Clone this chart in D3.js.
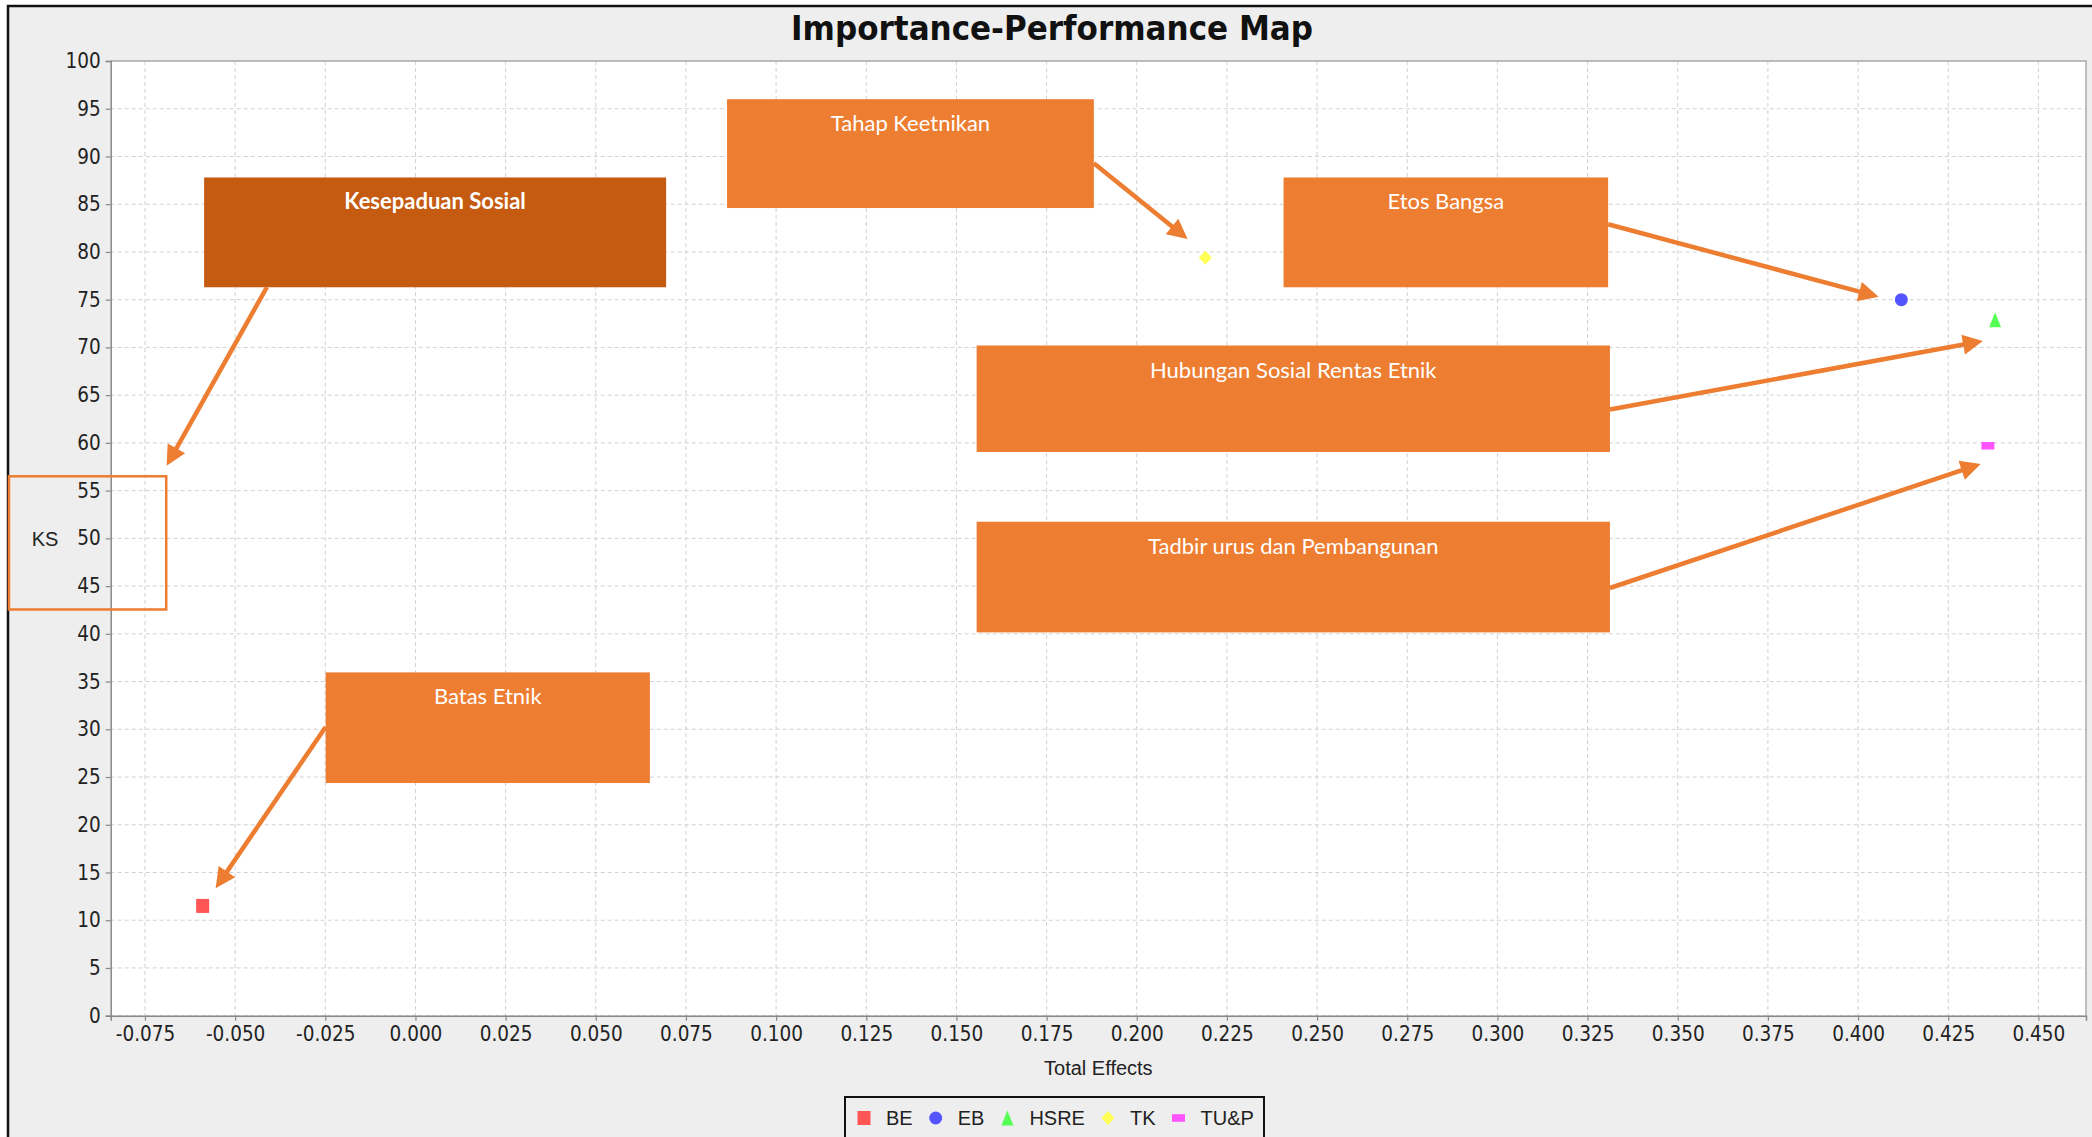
<!DOCTYPE html>
<html>
<head>
<meta charset="utf-8">
<script src="https://cdn.jsdelivr.net/npm/d3@7"></script>
<style>
  body { margin: 0; background: #fff; }
  svg { display: block; }
</style>
</head>
<body>
<svg id="chart"></svg>
<script>
// chart values
const series = ['BE', 'EB', 'HSRE', 'TK', 'TU&P'];
const totalEffects = [-0.059, 0.412, 0.438, 0.219, 0.436];
const performance = [11.5, 75.0, 72.9, 79.4, 59.7];
const seriesColors = ['#ff5555', '#5555ff', '#55ff55', '#ffff55', '#ff55ff'];
const seriesShapes = ['square', 'circle', 'triangle', 'diamond', 'bar'];

const xTickValues = [-0.075, -0.05, -0.025, 0, 0.025, 0.05, 0.075, 0.1, 0.125, 0.15, 0.175,
  0.2, 0.225, 0.25, 0.275, 0.3, 0.325, 0.35, 0.375, 0.4, 0.425, 0.45];
const yTickValues = [0, 5, 10, 15, 20, 25, 30, 35, 40, 45, 50, 55, 60, 65, 70, 75, 80, 85, 90, 95, 100];

// call-out boxes, in data units: box [x0, x1, yTop, yBottom], arrow [from, to]
const noteLabels = ['Kesepaduan Sosial', 'Tahap Keetnikan', 'Etos Bangsa',
  'Hubungan Sosial Rentas Etnik', 'Tadbir urus dan Pembangunan', 'Batas Etnik'];
const noteBoxes = [
  [-0.0586, 0.0695, 87.8, 76.3],
  [0.0864, 0.1881, 96.0, 84.6],
  [0.2407, 0.3307, 87.8, 76.3],
  [0.1556, 0.3312, 70.2, 59.05],
  [0.1556, 0.3312, 51.74, 40.15],
  [-0.0249, 0.0650, 35.96, 24.37],
];
const noteArrows = [
  [[-0.0412, 76.3], [-0.0690, 57.6]],
  [[0.1881, 89.3], [0.2141, 81.35]],
  [[0.3307, 82.9], [0.4057, 75.3]],
  [[0.3312, 63.5], [0.4346, 70.67]],
  [[0.3312, 44.8], [0.4340, 57.8]],
  [[-0.0249, 30.24], [-0.0554, 13.35]],
];
// the orange frame round the KS label
const ksFrame = [-0.1127, -0.0691, 56.5, 42.55];

const width = 2092;
const height = 1137;
const margin = { top: 61, right: 6, bottom: 121.3, left: 110.7 };
const orange = '#ed7d31';

const svg = d3.select('#chart').attr('width', width).attr('height', height);

// outer panel
svg.append('rect').attr('width', width).attr('height', height).attr('fill', '#fff');
svg.append('rect')
  .attr('x', 8).attr('y', 6)
  .attr('width', width).attr('height', height)
  .attr('fill', '#eeeeee');
svg.append('path')
  .attr('d', `M8,${height} V6 H${width}`)
  .attr('fill', 'none')
  .attr('stroke', '#111')
  .attr('stroke-width', 2.5);

const x = d3.scaleLinear()
  .domain([-0.0845, 0.4632])
  .range([margin.left, width - margin.right]);
const y = d3.scaleLinear()
  .domain([0, 100])
  .range([height - margin.bottom, margin.top]);

const [x0, x1] = x.range();
const [y0, y1] = y.range();

svg.append('rect')
  .attr('x', x0).attr('y', y1)
  .attr('width', x1 - x0).attr('height', y0 - y1)
  .attr('fill', '#fff');

// grid
const grid = svg.append('g')
  .attr('stroke', '#d2d2d2')
  .attr('stroke-width', 1)
  .attr('stroke-dasharray', '4,3');
grid.selectAll('line.v')
  .data(xTickValues)
  .join('line')
  .attr('class', 'v')
  .attr('x1', d => x(d)).attr('x2', d => x(d))
  .attr('y1', y1).attr('y2', y0);
grid.selectAll('line.h')
  .data(yTickValues)
  .join('line')
  .attr('class', 'h')
  .attr('x1', x0).attr('x2', x1)
  .attr('y1', d => y(d)).attr('y2', d => y(d));

// plot outline
svg.append('path')
  .attr('d', `M${x0},${y1} H${x1} V${y0}`)
  .attr('fill', 'none')
  .attr('stroke', '#aaa')
  .attr('stroke-width', 1.5);

// axes
const fmt = d => (Math.abs(d) < 1e-9 ? 0 : d).toFixed(3);
const xAxis = svg.append('g')
  .attr('transform', `translate(0,${y0})`)
  .call(d3.axisBottom(x).tickValues(xTickValues).tickFormat(fmt).tickSize(5).tickPadding(6));
const yAxis = svg.append('g')
  .attr('transform', `translate(${x0},0)`)
  .call(d3.axisLeft(y).tickValues(yTickValues).tickSize(5).tickPadding(5));

[xAxis, yAxis].forEach(a => {
  a.select('.domain').attr('stroke', '#888').attr('stroke-width', 1.5);
  a.selectAll('.tick line').attr('stroke', '#888').attr('stroke-width', 1.2);
  a.selectAll('.tick text')
    .attr('fill', '#222')
    .style('font-family', '"DejaVu Sans Condensed", "DejaVu Sans", sans-serif')
    .style('font-size', '20.5px');
});

svg.append('text')
  .attr('x', (x0 + x1) / 2)
  .attr('y', 1075)
  .attr('text-anchor', 'middle')
  .style('font-family', '"Liberation Sans", Arial, sans-serif')
  .style('font-size', '20px')
  .attr('fill', '#222')
  .text('Total Effects');

svg.append('text')
  .attr('x', 45)
  .attr('y', 546)
  .attr('text-anchor', 'middle')
  .style('font-family', '"Liberation Sans", Arial, sans-serif')
  .style('font-size', '20px')
  .attr('fill', '#222')
  .text('KS');

svg.append('text')
  .attr('x', 1052)
  .attr('y', 40)
  .attr('text-anchor', 'middle')
  .style('font-family', '"DejaVu Sans Condensed", "DejaVu Sans", sans-serif')
  .style('font-weight', 'bold')
  .style('font-size', '34.5px')
  .attr('fill', '#111')
  .text('Importance-Performance Map');

// marker shapes, centred on 0,0
const shapePath = (shape) => {
  switch (shape) {
    case 'square': return 'M-6.5,-7 H6.5 V7 H-6.5 Z';
    case 'circle': return 'M6.5,0 A6.5,6.5 0 1,1 -6.5,0 A6.5,6.5 0 1,1 6.5,0 Z';
    case 'triangle': return 'M0,-7.5 L6,7.5 L-6,7.5 Z';
    case 'diamond': return 'M0,-7 L6.5,0 L0,7 L-6.5,0 Z';
    default: return 'M-6.5,-3.8 H6.5 V3.8 H-6.5 Z';
  }
};

svg.append('g')
  .selectAll('path')
  .data(series.map((s, i) => ({ s, i })))
  .join('path')
  .attr('transform', d => `translate(${x(totalEffects[d.i])},${y(performance[d.i])})`)
  .attr('d', d => shapePath(seriesShapes[d.i]))
  .attr('fill', d => seriesColors[d.i]);

// call-outs
const notes = svg.append('g');
noteLabels.forEach((label, i) => {
  const [bx0, bx1, byTop, byBot] = noteBoxes[i];
  notes.append('rect')
    .attr('x', x(bx0)).attr('y', y(byTop))
    .attr('width', x(bx1) - x(bx0)).attr('height', y(byBot) - y(byTop))
    .attr('fill', i === 0 ? '#c55a11' : orange);
  notes.append('text')
    .attr('x', (x(bx0) + x(bx1)) / 2)
    .attr('y', y(byTop) + 32)
    .attr('text-anchor', 'middle')
    .attr('fill', '#fff')
    .style('font-family', 'Lato, "Open Sans", sans-serif')
    .style('font-size', '22px')
    .style('font-weight', i === 0 ? 'bold' : 'normal')
    .text(label);

  const [from, to] = noteArrows[i];
  const fx = x(from[0]), fy = y(from[1]);
  const tx = x(to[0]), ty = y(to[1]);
  const len = Math.hypot(tx - fx, ty - fy);
  const ux = (tx - fx) / len, uy = (ty - fy) / len;
  const head = 20, half = 10;
  const bx = tx - ux * head, by = ty - uy * head;
  notes.append('line')
    .attr('x1', fx).attr('y1', fy)
    .attr('x2', bx + ux * 2).attr('y2', by + uy * 2)
    .attr('stroke', orange)
    .attr('stroke-width', 4.5);
  notes.append('path')
    .attr('d', `M${tx},${ty} L${bx - uy * half},${by + ux * half} L${bx + uy * half},${by - ux * half} Z`)
    .attr('fill', orange);
});

svg.append('rect')
  .attr('x', x(ksFrame[0])).attr('y', y(ksFrame[2]))
  .attr('width', x(ksFrame[1]) - x(ksFrame[0]))
  .attr('height', y(ksFrame[3]) - y(ksFrame[2]))
  .attr('fill', 'none')
  .attr('stroke', orange)
  .attr('stroke-width', 2.5);

// legend
const legend = svg.append('g');
legend.append('rect')
  .attr('x', 845).attr('y', 1097)
  .attr('width', 419).attr('height', 60)
  .attr('fill', '#eeeeee')
  .attr('stroke', '#111')
  .attr('stroke-width', 2);

let cursor = 857;
series.forEach((s, i) => {
  const cx = cursor + 7;
  legend.append('path')
    .attr('transform', `translate(${cx},1118)`)
    .attr('d', shapePath(seriesShapes[i]))
    .attr('fill', seriesColors[i]);
  const t = legend.append('text')
    .attr('x', cx + 22)
    .attr('y', 1125)
    .attr('fill', '#222')
    .style('font-family', '"Liberation Sans", Arial, sans-serif')
    .style('font-size', '20px')
    .text(s);
  cursor = cx + 22 + t.node().getComputedTextLength() + 16;
});
</script>
</body>
</html>
